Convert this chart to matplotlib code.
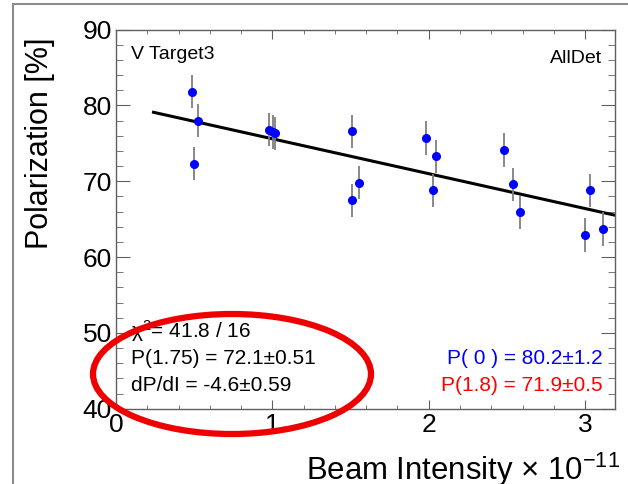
import numpy as np
import matplotlib.pyplot as plt
from matplotlib.patches import Ellipse
from matplotlib.lines import Line2D
from matplotlib.ticker import MultipleLocator

# beam intensity (x 1e-11) and polarization (%)
intensity = [0.486, 0.522, 0.501, 0.979, 1.002, 1.019, 1.511, 1.554, 1.511,
             1.983, 2.045, 2.025, 2.480, 2.537, 2.584, 3.030, 3.000, 3.117]
polarization = [81.8, 78.0, 72.3, 76.8, 76.5, 76.3, 76.6, 69.8, 67.5,
                75.7, 73.3, 68.8, 74.1, 69.6, 65.9, 68.8, 62.9, 63.7]
pol_err = [2.2, 2.15, 2.2, 2.2, 2.2, 2.2, 2.2, 2.2, 2.2,
           2.2, 2.2, 2.2, 2.2, 2.2, 2.2, 2.2, 2.2, 2.2]

# linear fit result
p0 = 80.2
slope = -4.6
fit_range = [0.24, 3.19]

fam = ["Liberation Sans", "DejaVu Sans"]
plt.rcParams["font.family"] = fam
plt.rcParams["mathtext.fontset"] = "custom"
plt.rcParams["mathtext.rm"] = "Liberation Sans"
plt.rcParams["mathtext.it"] = "Liberation Sans:italic"

fig = plt.figure(figsize=(6.28, 4.84), dpi=100)
ax = fig.add_axes([0.1847, 0.1556, 0.7943, 0.7832])

ax.errorbar(intensity, polarization, yerr=pol_err, fmt="o", color="#0000ff",
            ms=5.5, ecolor="#7f7f7f", elinewidth=1.3, capsize=0, zorder=3)

xf = np.array(fit_range)
ax.plot(xf, p0 + slope * xf, color="black", lw=2.2, zorder=2)

ax.set_xlim(0, 3.19)
ax.set_ylim(40, 90)
ax.xaxis.set_major_locator(MultipleLocator(1))
ax.xaxis.set_minor_locator(MultipleLocator(0.2))
ax.yaxis.set_major_locator(MultipleLocator(10))
ax.yaxis.set_minor_locator(MultipleLocator(2))

for s in ax.spines.values():
    s.set_color("#606060")
    s.set_linewidth(1.0)
ax.tick_params(axis="both", which="both", direction="in", top=True, right=True,
               color="#606060", labelsize=19)
ax.tick_params(axis="x", which="major", length=6.5, pad=3)
ax.tick_params(axis="x", which="minor", length=3.2)
ax.tick_params(axis="y", which="major", length=10, pad=3)
ax.tick_params(axis="y", which="minor", length=5)

ax.set_ylabel("Polarization [%]", fontsize=22)
ax.yaxis.set_label_coords(-0.122, 0.70)
ax.set_xlabel("Beam Intensity × 10$^{-11}$", fontsize=22.4)
ax.xaxis.set_label_coords(1.01, -0.112)
ax.xaxis.label.set_horizontalalignment("right")

ax.text(0.03, 0.935, "V Target3", transform=ax.transAxes, fontsize=14, va="center")
ax.text(0.975, 0.925, "AllDet", transform=ax.transAxes, fontsize=14, va="center", ha="right")

ax.text(0.03, 0.204, "χ$^{2}$= 41.8 / 16", transform=ax.transAxes, fontsize=15, va="center")
ax.text(0.03, 0.133, "P(1.75) = 72.1±0.51", transform=ax.transAxes, fontsize=15, va="center")
ax.text(0.03, 0.062, "dP/dI = -4.6±0.59", transform=ax.transAxes, fontsize=15, va="center")
ax.text(0.975, 0.133, "P( 0 ) = 80.2±1.2", transform=ax.transAxes, fontsize=15,
        va="center", ha="right", color="#0000ff")
ax.text(0.975, 0.062, "P(1.8) = 71.9±0.5", transform=ax.transAxes, fontsize=15,
        va="center", ha="right", color="#ff0000")

# canvas border
fig.add_artist(Line2D([13 / 628, 13 / 628], [0, 1 - 4 / 484], transform=fig.transFigure,
                      color="#8c8c8c", lw=1.5))
fig.add_artist(Line2D([13 / 628, 1], [1 - 4 / 484, 1 - 4 / 484], transform=fig.transFigure,
                      color="#8c8c8c", lw=1.5))

# red annotation ellipse
fig.add_artist(Ellipse((232 / 628, 1 - 374 / 484), 278 / 628, 120 / 484,
                       transform=fig.transFigure, fill=False, edgecolor="#ee0000",
                       lw=4.5, zorder=10))

fig.savefig("out.png", dpi=100)
